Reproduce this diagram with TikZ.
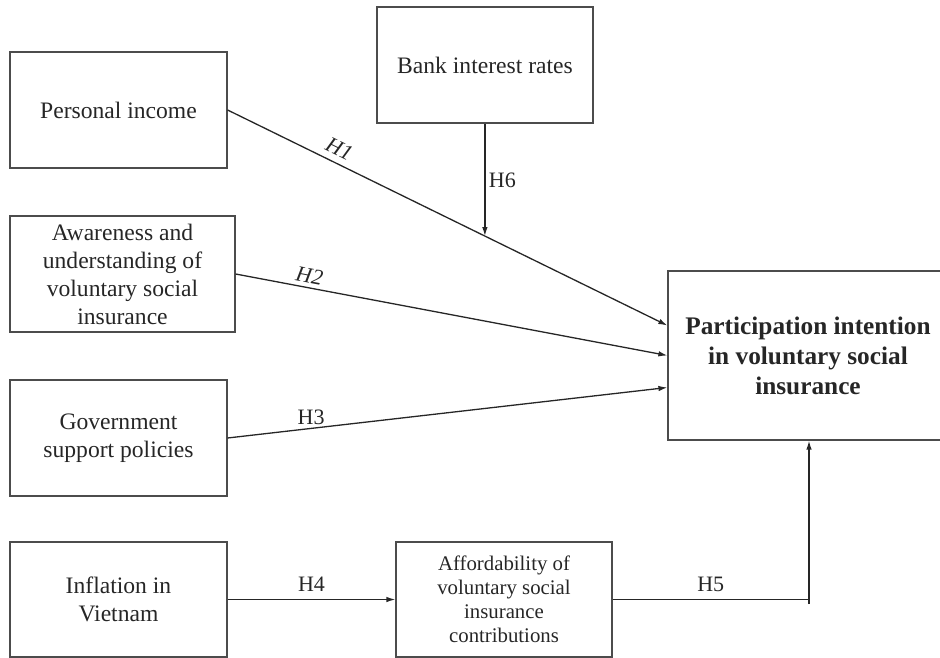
\documentclass[tikz,border=0pt]{standalone}
\usepackage{fontspec}
\setmainfont{Liberation Serif}
\usetikzlibrary{arrows.meta}

\begin{document}
\begin{tikzpicture}
	[x=1pt,y=-1pt,
	box/.style={draw=black!70,line width=1.2pt,text=black!85,align=center,inner sep=0pt,
		minimum width=217pt,minimum height=116pt,font=\fontsize{23.6}{28}\selectfont},
	link/.style={draw=black!85,line width=1.3pt},
	arr/.style={link,-{Latex[length=9pt,width=5.5pt]}},
	hyp/.style={text=black!85,font=\fontsize{22}{26}\selectfont}]

	\useasboundingbox (0,0) rectangle (940,658);

	% factors
	\node[box] (income) at (118.5,110) {Personal income};
	\node[box,minimum width=216pt] (bank) at (485,65) {Bank interest rates};
	\node[box,minimum width=225pt] (aware) at (122.5,274) {Awareness and\\understanding of\\voluntary social\\insurance};
	\node[box] (gov) at (118.5,438) {Government\\support policies};
	\node[box,minimum height=115pt] (infl) at (118.5,599.5) {Inflation in\\Vietnam};
	\node[box,minimum width=216pt,minimum height=115pt,font=\fontsize{20.8}{24}\selectfont] (afford) at (504,599.5) {Affordability of\\voluntary social\\insurance\\contributions};
	\node[box,minimum width=280pt,minimum height=169pt,font=\fontsize{25.3}{30}\bfseries] (part) at (808,355.5) {Participation intention\\in voluntary social\\insurance};

	% hypotheses
	\draw[arr] (income.east) -- node[hyp,sloped,above=3pt,pos=0.24] {\textit{H1}} coordinate[pos=0.585] (h6end) ([yshift=30pt]part.west);
	\draw[arr] (bank.south -| h6end) -- node[hyp,right] {H6} (h6end);
	\draw[arr] (aware.east) -- node[hyp,sloped,above=1pt,pos=0.166] {\textit{H2}} (part.west);
	\draw[arr] (gov.east) -- node[hyp,above=0pt,pos=0.19] {H3} ([yshift=-32pt]part.west);
	\draw[arr] (infl) -- node[hyp,above=4pt] {H4} (afford);

	\coordinate (corner) at (809,604);
	\draw[link] (afford.east) -- node[hyp,above=4pt] {H5} (afford.east -| corner);
	\draw[arr] (corner) -- (part.south -| corner);

\end{tikzpicture}
\end{document}
